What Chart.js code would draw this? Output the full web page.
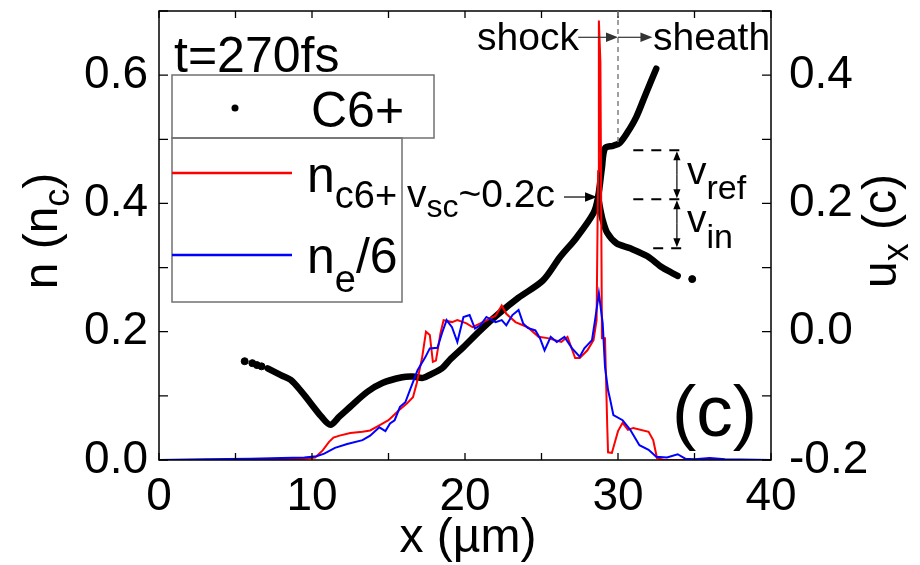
<!DOCTYPE html>
<html>
<head>
<meta charset="utf-8">
<script src="https://cdn.jsdelivr.net/npm/chart.js@4.4.1/dist/chart.umd.min.js"></script>
<style>
    html, body { margin: 0; padding: 0; background: #fff; }
    #contenedor { width: 920px; height: 565px; }
</style>
</head>
<body>
<div id="contenedor"><canvas id="grafico" width="920" height="565"></canvas></div>
<script>
// Iones C6+ (espacio de fases x - ux), rama principal
const ionX = [7.1, 8.0, 8.6, 9.3, 9.9, 10.6, 11.2, 11.8, 12.5, 13.6, 14.6, 15.9, 16.6, 17.25, 17.8, 18.5, 19.0, 19.9, 21.0, 22.1, 23.5, 25.1, 26.2, 27.3, 28.4, 28.7, 28.95, 29.15, 29.7, 30.1, 30.6, 31.2, 31.8, 32.5];
const ionU = [-0.057, -0.068, -0.075, -0.093, -0.111, -0.132, -0.145, -0.132, -0.117, -0.094, -0.080, -0.071, -0.070, -0.072, -0.066, -0.057, -0.044, -0.024, 0.002, 0.026, 0.053, 0.080, 0.116, 0.147, 0.185, 0.210, 0.256, 0.286, 0.290, 0.294, 0.310, 0.335, 0.370, 0.410];

// Rama de iones reflejados por el choque
const refX = [28.7, 28.85, 29.0, 29.3, 29.9, 30.8, 31.9, 32.9, 33.9];
const refU = [0.210, 0.190, 0.174, 0.154, 0.138, 0.130, 0.118, 0.100, 0.087];

// Puntos sueltos en los extremos
const sueltosX = [5.6, 6.1, 6.4, 6.7, 34.85];
const sueltosU = [-0.046, -0.049, -0.052, -0.054, 0.082];

// Densidad n_c6+
const ncX = [0, 5, 8, 9.5, 10.2, 10.7, 11.1, 11.4, 11.8, 12.5, 13.3, 13.8, 14.4, 15.0, 15.7, 16.2, 16.6, 16.85, 17.2, 17.45, 17.7, 17.9, 18.1, 18.4, 18.6, 19.15, 19.5, 20.1, 20.5, 21.0, 21.6, 22.0, 22.4, 22.7, 23.3, 24.1, 24.8, 25.4, 26.3, 26.7, 27.2, 27.5, 28.0, 28.4, 28.6, 28.7, 28.75, 28.85, 28.95, 29.15, 29.3, 29.35, 29.6, 30.0, 30.3, 30.65, 31.0, 32.0, 32.3, 32.55, 33, 40];
const ncN = [0, 0, 0.001, 0.002, 0.004, 0.015, 0.028, 0.035, 0.038, 0.042, 0.044, 0.046, 0.054, 0.062, 0.078, 0.088, 0.098, 0.12, 0.16, 0.2, 0.195, 0.153, 0.155, 0.198, 0.218, 0.215, 0.218, 0.213, 0.207, 0.213, 0.22, 0.225, 0.241, 0.228, 0.215, 0.207, 0.192, 0.19, 0.184, 0.192, 0.159, 0.159, 0.171, 0.187, 0.218, 0.45, 0.685, 0.62, 0.19, 0.19, 0.05, 0.012, 0.011, 0.045, 0.058, 0.047, 0.05, 0.044, 0.031, 0.003, 0, 0];

// Densidad electrónica n_e/6
const neX = [0, 3, 6, 8, 9.5, 10.3, 10.8, 11.5, 12.3, 13.3, 13.8, 14.4, 14.8, 15.1, 15.4, 15.75, 16.1, 16.4, 16.9, 17.4, 17.7, 18.2, 18.5, 18.8, 19.15, 19.5, 19.9, 20.3, 20.65, 21.0, 21.4, 22.0, 22.4, 22.7, 23.1, 23.5, 23.8, 24.1, 24.6, 24.9, 25.2, 25.6, 26.0, 26.5, 27.0, 27.5, 27.8, 28.3, 28.5, 28.75, 29.0, 29.15, 29.35, 29.5, 29.7, 30.3, 30.8, 31.4, 32.0, 32.5, 33.2, 33.9, 34.4, 35, 36, 37, 40];
const neN = [0, 0.001, 0.002, 0.003, 0.004, 0.006, 0.01, 0.019, 0.025, 0.031, 0.038, 0.051, 0.045, 0.057, 0.062, 0.083, 0.09, 0.109, 0.14, 0.16, 0.174, 0.175, 0.198, 0.218, 0.207, 0.184, 0.223, 0.226, 0.205, 0.21, 0.223, 0.215, 0.218, 0.21, 0.226, 0.234, 0.213, 0.206, 0.202, 0.19, 0.171, 0.192, 0.184, 0.192, 0.174, 0.161, 0.174, 0.187, 0.218, 0.26, 0.213, 0.145, 0.109, 0.093, 0.07, 0.062, 0.047, 0.023, 0.016, 0.005, 0.004, 0.009, 0.002, 0.001, 0.003, 0.001, 0];

// Marcas de las anotaciones (en unidades de datos)
const choqueX = 30;          // línea discontinua choque / vaina
const vscX = 28.63, vscU = 0.21;
const nivelesV = [0.283, 0.2065, 0.130];

const FUENTE = "'Liberation Sans', Arial, sans-serif";

function puntos(xs, ys) {
    return xs.map((x, i) => ({ x: x, y: ys[i] }));
}

function texto(ctx, x, y, partes) {
    let cx = x;
    partes.forEach(p => {
        ctx.font = p.size + "px " + FUENTE;
        ctx.fillText(p.t, cx, y + (p.dy || 0));
        cx += ctx.measureText(p.t).width;
    });
    return cx - x;
}

function anchoTexto(ctx, partes) {
    let w = 0;
    partes.forEach(p => {
        ctx.font = p.size + "px " + FUENTE;
        w += ctx.measureText(p.t).width;
    });
    return w;
}

function flecha(ctx, x1, y1, x2, y2, tam) {
    const ang = Math.atan2(y2 - y1, x2 - x1);
    ctx.beginPath();
    ctx.moveTo(x1, y1);
    ctx.lineTo(x2 - Math.cos(ang) * tam * 0.8, y2 - Math.sin(ang) * tam * 0.8);
    ctx.stroke();
    ctx.beginPath();
    ctx.moveTo(x2, y2);
    ctx.lineTo(x2 - tam * Math.cos(ang) + tam * 0.4 * Math.sin(ang), y2 - tam * Math.sin(ang) - tam * 0.4 * Math.cos(ang));
    ctx.lineTo(x2 - tam * Math.cos(ang) - tam * 0.4 * Math.sin(ang), y2 - tam * Math.sin(ang) + tam * 0.4 * Math.cos(ang));
    ctx.closePath();
    ctx.fill();
}

// quitar el margen extra que Chart.js reserva para las etiquetas de los extremos
function sinMargen(s) {
    s.paddingTop = 0;
    s.paddingBottom = 0;
    s.paddingLeft = 0;
    s.paddingRight = 0;
}

const decoracion = {
    id: "decoracion",
    afterDraw(chart) {
        const ctx = chart.ctx;
        const a = chart.chartArea;
        const sx = chart.scales.x, sy = chart.scales.y, su = chart.scales.y1;
        ctx.save();
        ctx.fillStyle = "#000";
        ctx.strokeStyle = "#000";

        // marco
        ctx.lineWidth = 1.5;
        ctx.strokeRect(a.left, a.top, a.right - a.left, a.bottom - a.top);

        // marcas hacia dentro
        ctx.lineWidth = 1.3;
        ctx.beginPath();
        for (let v = 0; v <= 40; v += 5) {
            const px = sx.getPixelForValue(v);
            ctx.moveTo(px, a.bottom); ctx.lineTo(px, a.bottom - 7);
            ctx.moveTo(px, a.top); ctx.lineTo(px, a.top + 7);
        }
        for (let k = 0; k <= 7; k++) {
            const py = sy.getPixelForValue(k / 10);
            ctx.moveTo(a.left, py); ctx.lineTo(a.left + 9, py);
            const pu = su.getPixelForValue(-0.2 + k / 10);
            ctx.moveTo(a.right, pu); ctx.lineTo(a.right - 9, pu);
        }
        ctx.stroke();

        // línea discontinua gris en x = 30
        const xc = sx.getPixelForValue(choqueX);
        ctx.strokeStyle = "#808080";
        ctx.lineWidth = 1.5;
        ctx.setLineDash([5, 4]);
        ctx.beginPath();
        ctx.moveTo(xc, a.top);
        ctx.lineTo(xc, su.getPixelForValue(0.29));
        ctx.stroke();
        ctx.setLineDash([]);

        // shock -> | -> sheath
        ctx.strokeStyle = "#333";
        ctx.fillStyle = "#333";
        ctx.lineWidth = 1.2;
        const yf = su.getPixelForValue(0.459);
        flecha(ctx, sx.getPixelForValue(27.4), yf, xc, yf, 12);
        flecha(ctx, xc, yf, sx.getPixelForValue(32.25), yf, 12);
        ctx.fillStyle = "#000";
        ctx.textBaseline = "alphabetic";
        texto(ctx, 477, 50, [{ t: "shock", size: 39 }]);
        texto(ctx, 653, 50, [{ t: "sheath", size: 39 }]);

        // v_sc ~ 0.2c
        ctx.strokeStyle = "#000";
        ctx.fillStyle = "#000";
        const yv = su.getPixelForValue(vscU);
        flecha(ctx, 564, yv, sx.getPixelForValue(vscX), yv, 12);
        texto(ctx, 407, 207, [{ t: "v", size: 39 }, { t: "sc", size: 32, dy: 10 }, { t: "~0.2c", size: 39 }]);

        // v_ref / v_in
        ctx.lineWidth = 2;
        ctx.setLineDash([10, 8]);
        ctx.beginPath();
        nivelesV.forEach((u, i) => {
            const py = su.getPixelForValue(u);
            ctx.moveTo(sx.getPixelForValue(i === 2 ? 32.3 : 31.0), py);
            ctx.lineTo(sx.getPixelForValue(34.4), py);
        });
        ctx.stroke();
        ctx.setLineDash([]);
        ctx.lineWidth = 1.2;
        const xa = sx.getPixelForValue(33.85);
        const p0 = su.getPixelForValue(nivelesV[0]);
        const p1 = su.getPixelForValue(nivelesV[1]);
        const p2 = su.getPixelForValue(nivelesV[2]);
        const med1 = (p0 + p1) / 2, med2 = (p1 + p2) / 2;
        flecha(ctx, xa, med1, xa, p0 + 1, 9);
        flecha(ctx, xa, med1, xa, p1 - 1, 9);
        flecha(ctx, xa, med2, xa, p1 + 1, 9);
        flecha(ctx, xa, med2, xa, p2 - 1, 9);
        texto(ctx, 687, 184, [{ t: "v", size: 39 }, { t: "ref", size: 34, dy: 15 }]);
        texto(ctx, 687, 232, [{ t: "v", size: 39 }, { t: "in", size: 34, dy: 16 }]);

        // t=270fs y (c)
        texto(ctx, 174, 72, [{ t: "t=270fs", size: 50 }]);
        texto(ctx, 672, 436, [{ t: "(c)", size: 73 }]);

        // leyenda
        ctx.strokeStyle = "#707070";
        ctx.lineWidth = 1.5;
        ctx.strokeRect(172, 75, 262, 63);
        ctx.strokeRect(172, 138, 230, 164);
        ctx.beginPath();
        ctx.arc(235, 108, 3.5, 0, Math.PI * 2);
        ctx.fill();
        texto(ctx, 311, 127, [{ t: "C6+", size: 50 }]);
        ctx.lineWidth = 2.5;
        ctx.strokeStyle = "#ff0000";
        ctx.beginPath(); ctx.moveTo(172, 173); ctx.lineTo(292, 173); ctx.stroke();
        ctx.strokeStyle = "#0000ff";
        ctx.beginPath(); ctx.moveTo(172, 255); ctx.lineTo(292, 255); ctx.stroke();
        texto(ctx, 307, 192, [{ t: "n", size: 50 }, { t: "c6+", size: 38, dy: 16 }]);
        texto(ctx, 307, 273, [{ t: "n", size: 50 }, { t: "e", size: 38, dy: 19 }, { t: "/6", size: 50 }]);

        // títulos de ejes
        const tx = [{ t: "x (\u00b5m)", size: 48 }];
        texto(ctx, 468 - anchoTexto(ctx, tx) / 2, 552, tx);

        const ty = [{ t: "n (n", size: 48 }, { t: "c", size: 36, dy: 12 }, { t: ")", size: 48 }];
        ctx.save();
        ctx.translate(57, 231);
        ctx.rotate(-Math.PI / 2);
        texto(ctx, -anchoTexto(ctx, ty) / 2, 0, ty);
        ctx.restore();

        const tu = [{ t: "u", size: 48 }, { t: "x", size: 36, dy: 12 }, { t: " (c)", size: 48 }];
        ctx.save();
        ctx.translate(896, 231);
        ctx.rotate(-Math.PI / 2);
        texto(ctx, -anchoTexto(ctx, tu) / 2, 0, tu);
        ctx.restore();

        ctx.restore();
    }
};

const ctx = document.getElementById("grafico").getContext("2d");

const grafico = new Chart(ctx, {
    type: "scatter",
    data: {
        datasets: [
            {
                label: "n_e/6",
                data: puntos(neX, neN),
                yAxisID: "y",
                showLine: true,
                borderColor: "#0000ff",
                borderWidth: 2,
                pointRadius: 0,
                tension: 0,
                order: 1
            },
            {
                label: "n_c6+",
                data: puntos(ncX, ncN),
                yAxisID: "y",
                showLine: true,
                borderColor: "#ff0000",
                borderWidth: 2,
                pointRadius: 0,
                tension: 0,
                order: 2
            },
            {
                label: "C6+",
                data: puntos(ionX, ionU),
                yAxisID: "y1",
                showLine: true,
                borderColor: "#000",
                borderWidth: 6.5,
                borderCapStyle: "round",
                borderJoinStyle: "round",
                pointRadius: 0,
                tension: 0.3,
                order: 3
            },
            {
                label: "C6+ reflejados",
                data: puntos(refX, refU),
                yAxisID: "y1",
                showLine: true,
                borderColor: "#000",
                borderWidth: 6.5,
                borderCapStyle: "round",
                borderJoinStyle: "round",
                pointRadius: 0,
                tension: 0.3,
                order: 3
            },
            {
                label: "C6+ sueltos",
                data: puntos(sueltosX, sueltosU),
                yAxisID: "y1",
                showLine: false,
                backgroundColor: "#000",
                borderColor: "#000",
                pointRadius: 3.5,
                order: 3
            }
        ]
    },
    options: {
        responsive: false,
        animation: false,
        devicePixelRatio: 1,
        layout: { padding: { top: 11, left: 0, right: 0, bottom: 0 }, autoPadding: false },
        plugins: {
            legend: { display: false },
            tooltip: { enabled: false }
        },
        scales: {
            x: {
                type: "linear",
                min: 0,
                max: 40,
                grid: { display: false, drawTicks: false },
                border: { display: false },
                ticks: {
                    stepSize: 10,
                    padding: 10,
                    color: "#000",
                    font: { family: FUENTE, size: 46 },
                    maxRotation: 0
                },
                afterFit: s => { s.height = 105; sinMargen(s); }
            },
            y: {
                position: "left",
                min: 0,
                max: 0.7,
                grid: { display: false, drawTicks: false },
                border: { display: false },
                ticks: {
                    stepSize: 0.2,
                    padding: 11,
                    color: "#000",
                    font: { family: FUENTE, size: 46 },
                    callback: v => v.toFixed(1)
                },
                afterBuildTicks: s => { s.ticks = s.ticks.filter(t => t.value < 0.65); },
                afterFit: s => { s.width = 159; sinMargen(s); }
            },
            y1: {
                position: "right",
                min: -0.2,
                max: 0.5,
                grid: { display: false, drawTicks: false },
                border: { display: false },
                ticks: {
                    stepSize: 0.2,
                    padding: 18,
                    color: "#000",
                    font: { family: FUENTE, size: 46 },
                    callback: v => (Math.abs(v) < 1e-9 ? 0 : v).toFixed(1)
                },
                afterBuildTicks: s => { s.ticks = s.ticks.filter(t => t.value < 0.45); },
                afterFit: s => { s.width = 149; sinMargen(s); }
            }
        }
    },
    plugins: [decoracion]
});
</script>
</body>
</html>
